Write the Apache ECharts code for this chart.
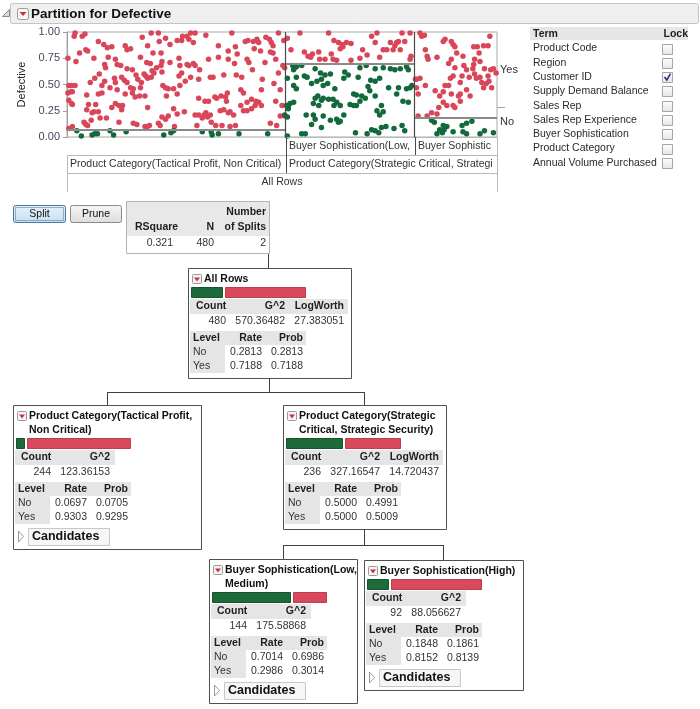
<!DOCTYPE html>
<html><head><meta charset="utf-8">
<script src="https://cdn.jsdelivr.net/npm/echarts@6.0.0/dist/echarts.min.js"></script>
<style>html,body{margin:0;padding:0;background:#fff}#c{width:700px;height:709px}</style>
</head><body><div id="c"></div>
<script>
// ---------------- data ----------------
const chartTitle = 'Partition for Defective';
const yName = 'Defective';
const yTickLabels = ['0.00', '0.25', '0.50', '0.75', '1.00'];
const levels = ['No', 'Yes'];
const leafCounts = [244, 144, 92];
const leafNoRate = [0.0697, 0.7014, 0.1848];
const overallNoRate = 0.2813;
const level1Labels = ['Product Category(Tactical Profit, Non Critical)', 'Product Category(Strategic Critical, Strategic Security)'];
const level2Labels = ['Buyer Sophistication(Low, Medium)', 'Buyer Sophistication(High)'];
const rootLabel = 'All Rows';

const redPoints = [
[9,.99],[8,.96],[17,.96],[20,.98],[35,.91],[41,.88],[45,.85],[50,.86],[65,.87],[67,.83],[71,.84],[84,.95],[94,.99],[102,.99],[103,.91],[90,.87],[96,.80],[105,.80],[110,.94],[115,.88],[123,.92],[128,.92],[129,.96],[134,.96],[136,.93],[138,.99],[143,.99],[141,.90],[155,.97],[169,.87],[180,.82],[184,.99],[188,.86],[199,.91],[202,.92],[208,.91],[212,.93],[214,.90],[222,.95],[226,.93],[228,.90],[230,.87],[236,.99],[242,.92],[209,.84],[216,.82],[227,.81],[230,.80],[190,.79],[169,.76],[14,.80],[21,.83],[23,.82],[1,.75],[10,.72],[30,.75],[46,.76],[54,.74],[56,.69],[42,.69],[43,.66],[60,.68],[67,.65],[73,.64],[82,.76],[89,.71],[93,.70],[95,.63],[100,.66],[105,.68],[106,.72],[115,.71],[125,.75],[126,.68],[134,.69],[136,.68],[141,.70],[143,.68],[148,.64],[158,.74],[180,.74],[187,.70],[201,.74],[203,.71],[221,.71],[233,.74],[241,.68],[207,.64],
[31,.56],[36,.60],[26,.52],[42,.53],[39,.49],[53,.56],[54,.52],[61,.57],[64,.54],[67,.52],[71,.47],[77,.59],[79,.55],[86,.60],[88,.58],[90,.56],[83,.52],[82,.47],[74,.46],[73,.42],[76,.38],[81,.39],[87,.39],[94,.57],[97,.61],[106,.62],[107,.49],[110,.47],[113,.46],[119,.46],[125,.58],[126,.49],[128,.61],[132,.53],[138,.57],[147,.55],[160,.57],[163,.57],[175,.59],[189,.59],[195,.57],[218,.55],[231,.51],[236,.61],[243,.66],[238,.45],[217,.45],[194,.45],[5,.49],[2,.49],[9,.49],[1,.42],[4,.43],[6,.43],[48,.47],[56,.45],[39,.42],[35,.41],[22,.40],[65,.41],[123,.41],[111,.39],[147,.37],[154,.34],[158,.34],[165,.38],[167,.37],[172,.39],[177,.38],[179,.42],[178,.34],[197,.42],[206,.36],[211,.34],[214,.33],[210,.30],[217,.30],[233,.34],[240,.30],[243,.20],[238,.20],[2,.35],[5,.32],[6,.31],[32,.31],[24,.31],[22,.26],[28,.23],[30,.24],[35,.24],[50,.28],[54,.32],[58,.30],[62,.30],[61,.26],[90,.28],[119,.27],[123,.22],[131,.24],[113,.20],[106,.19],[110,.17],[143,.21],[147,.21],[151,.18],[153,.21],[155,.23],[157,.19],[160,.21],[171,.25],[175,.26],[180,.23],[182,.24],[186,.21],[194,.30],[197,.25],[201,.25],[206,.27],[201,.33],
[19,.14],[21,.12],[23,.11],[27,.16],[37,.18],[44,.18],[58,.14],[74,.13],[78,.12],[92,.11],[89,.09],[87,.10],[102,.13],[104,.11],[120,.10],[145,.11],[161,.14],[166,.11],[173,.11],[182,.10],[188,.11],[227,.13],[234,.11],[2,.08],[6,.10],
[260,.99],[292,.99],[298,.92],[303,.90],[307,.88],[308,.86],[312,.90],[317,.89],[305,.84],[340,.96],[344,.90],[346,.99],[361,.90],[364,.83],[366,.87],[368,.90],[370,.91],[372,.83],[374,.99],[377,.91],[383,.99],[250,.83],[265,.81],[269,.77],[272,.76],[274,.79],[281,.81],[282,.74],[288,.74],[295,.79],[297,.74],[301,.73],[317,.73],[330,.83],[335,.78],[353,.83],[357,.83],[246,.94],[383,.74],[384,.77],[327,.75],[349,.76],
[394,.99],[399,.97],[396,.96],[400,.83],[402,.77],[403,.74],[413,.76],[420,.91],[422,.93],[429,.91],[431,.88],[433,.86],[435,.80],[442,.77],[454,.86],[458,.86],[460,.80],[465,.87],[470,.87],[472,.96],[476,.65],[473,.64],[466,.65],[461,.72],[455,.74],[454,.69],[453,.65],[446,.64],[449,.57],[455,.60],[457,.56],[461,.57],[463,.52],[465,.47],[468,.51],[470,.58],[471,.53],[474,.47],[479,.61],[441,.58],[439,.52],[431,.58],[428,.56],[422,.49],[420,.43],[426,.49],[429,.41],[437,.39],[446,.45],[450,.39],[439,.34],[433,.28],[424,.30],[420,.33],[415,.28],[413,.22],[407,.23],[416,.39],[411,.44],[389,.55],[390,.55],[394,.56],[390,.47],[400,.49],[392,.41],[392,.20],[402,.20],[431,.30],[439,.41],[426,.70],[429,.74],[433,.66],[443,.68]
];

const greenPoints = [
[11,.06],[16,.01],[28,.02],[31,.03],[34,.03],[48,.06],[52,.02],[66,.05],[108,.02],[116,.04],[119,.06],[151,.05],[161,.05],[162,.02],[169,.03],[192,.03],[224,.03],
[252,.68],[254,.66],[262,.68],[253,.64],[256,.67],[277,.65],[283,.61],[288,.59],[294,.60],[310,.62],[314,.59],[327,.66],[334,.68],[344,.65],[353,.66],[361,.65],[366,.64],[372,.65],[379,.67],[381,.64],[246,.56],[256,.57],[265,.58],[268,.57],[273,.51],[279,.53],[284,.55],[291,.51],[309,.56],[325,.57],[339,.54],[344,.53],[349,.56],[359,.47],[253,.49],[256,.46],[286,.49],[299,.46],[320,.41],[329,.39],[333,.37],[336,.48],[338,.44],[323,.40],[327,.34],[316,.31],[320,.30],[323,.30],[292,.36],[297,.36],[301,.33],[305,.30],[298,.30],[284,.35],[286,.37],[277,.37],[280,.39],[275,.32],[281,.30],[249,.32],[253,.33],[245,.30],[247,.28],[243,.21],[246,.19],[267,.21],[275,.21],[277,.17],[286,.20],[294,.16],[301,.17],[305,.15],[309,.21],[368,.41],[370,.47],[379,.46],[383,.47],[385,.49],[375,.34],[381,.33],[351,.30],[353,.24],[344,.39],[346,.25],[349,.21],[273,.12],[284,.09],[303,.14],[262,.03],[266,.03],[322,.04],[335,.03],[340,.07],[344,.06],[348,.04],[351,.09],[356,.10],[365,.08],[374,.11],[377,.06],[246,.01],[247,.27],
[407,.16],[410,.14],[420,.11],[424,.10],[416,.07],[413,.03],[419,.04],[421,.07],[441,.11],[442,.05],[446,.13],[452,.15],[446,.03],[461,.03],[466,.06],[476,.04],[431,.05]
];

const summaryHeads = ['RSquare', 'N', 'Number of Splits'];
const summaryVals = ['0.321', '480', '2'];

const nodeTitles = [['All Rows'], ['Product Category(Tactical Profit,', 'Non Critical)'], ['Product Category(Strategic', 'Critical, Strategic Security)'], ['Buyer Sophistication(Low,', 'Medium)'], ['Buyer Sophistication(High)']];
const nodeCounts = [480, 244, 236, 144, 92];
const nodeG2 = ['570.36482', '123.36153', '327.16547', '175.58868', '88.056627'];
const nodeLogWorth = ['27.383051', null, '14.720437', null, null];
const nodeRateNo = ['0.2813', '0.0697', '0.5000', '0.7014', '0.1848'];
const nodeRateYes = ['0.7188', '0.9303', '0.5000', '0.2986', '0.8152'];
const nodeProbNo = ['0.2813', '0.0705', '0.4991', '0.6986', '0.1861'];
const nodeProbYes = ['0.7188', '0.9295', '0.5009', '0.3014', '0.8139'];
const nodeCandidates = [false, true, false, true, true];

const termNames = ['Product Code', 'Region', 'Customer ID', 'Supply Demand Balance', 'Sales Rep', 'Sales Rep Experience', 'Buyer Sophistication', 'Product Category', 'Annual Volume Purchased'];
const termLocked = [false, false, true, false, false, false, false, false, false];

// ---------------- chart ----------------
const FONT = '"Liberation Sans", Arial, sans-serif';
const RED = '#d9465a', GREEN = '#12693a';
const leafStarts = []; let acc = 0;
leafCounts.forEach(c => { leafStarts.push(acc); acc += c; });
const totalN = acc;
const partLines = leafCounts.map((c, i) => ({ coords: [[leafStarts[i], leafNoRate[i]], [leafStarts[i] + c, leafNoRate[i]]] }));
const splitLines = leafStarts.slice(1).map(s => ({ coords: [[s, 0], [s, 1]] }));

const chart = echarts.init(document.getElementById('c'), null, { width: 700, height: 709 });
chart.setOption({
  animation: false,
  backgroundColor: '#fff',
  grid: { left: 67, top: 32, width: 430, height: 105, show: true, borderColor: '#a8a8a8', borderWidth: 1, backgroundColor: '#fff' },
  xAxis: { type: 'value', min: 0, max: totalN, show: false },
  yAxis: {
    type: 'value', min: 0, max: 1, interval: 0.25,
    name: yName, nameLocation: 'middle', nameGap: 40, nameRotate: 90,
    nameTextStyle: { fontFamily: FONT, fontSize: 11, color: '#222' },
    axisLine: { show: true, lineStyle: { color: '#a0a0a0' } },
    axisTick: { show: true, length: 4, lineStyle: { color: '#a0a0a0' } },
    axisLabel: { fontFamily: FONT, fontSize: 11, color: '#404a5e', margin: 7, formatter: (v, i) => yTickLabels[i] },
    splitLine: { show: false }
  },
  series: [
    { type: 'scatter', data: redPoints, symbolSize: 5.5, itemStyle: { color: RED, opacity: 1 }, silent: true },
    { type: 'scatter', data: greenPoints, symbolSize: 5.5, itemStyle: { color: GREEN, opacity: 1 }, silent: true },
    { type: 'lines', coordinateSystem: 'cartesian2d', data: partLines, lineStyle: { color: '#8a8a8a', width: 2, opacity: 1 }, silent: true, z: 3 },
    { type: 'lines', coordinateSystem: 'cartesian2d', data: splitLines, lineStyle: { color: '#4a4a4a', width: 1.2, opacity: 1 }, silent: true, z: 3 }
  ]
});

// ---------------- graphics ----------------
const g = [];
function T(x, y, text, o) {
  o = o || {};
  const st = { text: text, fill: o.c || '#1e1e1e', font: (o.b ? 'bold ' : '') + (o.s || 10.5) + 'px ' + FONT,
    textAlign: o.a || 'left', textVerticalAlign: 'middle', align: o.a || 'left', verticalAlign: 'middle' };
  if (o.w) { st.width = o.w; st.overflow = 'truncate'; st.ellipsis = ''; }
  g.push({ type: 'text', x: x, y: y, rotation: o.r || 0, silent: true, z: 10, style: st });
}
function R(x, y, w, h, fill, stroke, lw, r, dash) {
  const st = { fill: fill || 'none', stroke: stroke || 'none', lineWidth: lw || 1 };
  if (dash) st.lineDash = dash;
  g.push({ type: 'rect', silent: true, z: 5, shape: { x: x, y: y, width: w, height: h, r: r || 0 }, style: st });
}
function L(x1, y1, x2, y2, c, w) {
  g.push({ type: 'line', silent: true, z: 6, shape: { x1: x1, y1: y1, x2: x2, y2: y2 }, style: { stroke: c || '#444', lineWidth: w || 1 } });
}
function P(pts, fill, stroke) {
  g.push({ type: 'polygon', silent: true, z: 7, shape: { points: pts }, style: { fill: fill || 'none', stroke: stroke || 'none', lineWidth: 1 } });
}
function grad(a, b) { return { type: 'linear', x: 0, y: 0, x2: 0, y2: 1, colorStops: [{ offset: 0, color: a }, { offset: 1, color: b }] }; }

// title bar
R(10.5, 3.5, 688, 20, '#efefef', '#c4c4c4', 1, 2);
P([[9.5, 9.5], [9.5, 16.5], [2.5, 16.5]], '#dadada', '#8a8a8a');
R(17.5, 8.5, 11, 11, '#f7f7f7', '#9a9a9a', 1, 2);
P([[19.5, 12], [26.5, 12], [23, 16]], '#d0283a');
T(31, 14, chartTitle, { b: 1, s: 13.5, c: '#111' });

// plot partition rows
const pTL = chart.convertToPixel({ gridIndex: 0 }, [0, 1]);
const pBR = chart.convertToPixel({ gridIndex: 0 }, [totalN, 0]);
const X0 = Math.round(pTL[0]), X1 = Math.round(pBR[0]), Yb = Math.round(pBR[1]);
const b1 = Math.round(chart.convertToPixel({ gridIndex: 0 }, [leafStarts[1], 0])[0]);
const b2 = Math.round(chart.convertToPixel({ gridIndex: 0 }, [leafStarts[2], 0])[0]);
const rh = 18, r1 = Yb, r2 = Yb + rh, r3 = Yb + 2 * rh;
R(b1 + .5, r1 + .5, X1 - b1, rh, 'none', '#b8b8b8');
R(X0 + .5, r2 + .5, X1 - X0, rh, 'none', '#b8b8b8');
L(X0 + .5, r3, X0 + .5, r3 + rh + 1, '#b8b8b8');
L(X1 + .5, r3, X1 + .5, r3 + rh + 1, '#b8b8b8');
L(b1 + .5, Yb, b1 + .5, r3, '#4a4a4a');
L(b2 + .5, Yb, b2 + .5, r2, '#4a4a4a');
T(b1 + 3, r1 + 9.5, level2Labels[0], { c: '#333', w: b2 - b1 - 4 });
T(b2 + 3, r1 + 9.5, level2Labels[1], { c: '#333', w: X1 - b2 - 4 });
T(X0 + 3, r2 + 9.5, level1Labels[0], { c: '#333', w: b1 - X0 - 4 });
T(b1 + 3, r2 + 9.5, level1Labels[1], { c: '#333', w: X1 - b1 - 4 });
T((X0 + X1) / 2, r3 + 9.5, rootLabel, { c: '#333', a: 'center' });
// right level labels
const yOv = chart.convertToPixel({ gridIndex: 0 }, [0, overallNoRate])[1];
const yYes = chart.convertToPixel({ gridIndex: 0 }, [0, (overallNoRate + 1) / 2])[1];
const yNo = chart.convertToPixel({ gridIndex: 0 }, [0, overallNoRate / 2])[1];
L(X1, Math.round(yOv) + .5, X1 + 8, Math.round(yOv) + .5, '#a0a0a0');
T(X1 + 3, yYes, levels[1], { c: '#333', s: 11 });
T(X1 + 3, yNo, levels[0], { c: '#333', s: 11 });

// term / lock panel
R(530, 27, 158, 13, '#e6e6e6');
T(533, 34, 'Term', { b: 1 });
T(688, 34, 'Lock', { b: 1, a: 'right' });
termNames.forEach((t, i) => {
  const y = 48.5 + i * 14.3;
  T(533, y, t, { c: '#2a2a2a' });
  R(662.5, Math.round(y - 5) + .5, 10, 10, grad('#ffffff', '#e4e4e4'), '#a6a6a6');
  if (termLocked[i]) {
    g.push({ type: 'polyline', silent: true, z: 8, shape: { points: [[664.5, y], [666.8, y + 3], [670.5, y - 3.5]] }, style: { stroke: '#2d2d8f', lineWidth: 1.6, fill: 'none' } });
  }
});

// buttons
R(13.5, 205.5, 52, 17, grad('#e6f2fb', '#c4dff3'), '#3d7bad', 1, 2);
R(15.5, 207.5, 48, 13, 'none', '#6a6a6a', 1, 0, [1, 1]);
T(39.5, 214, 'Split', { a: 'center', c: '#111' });
R(70.5, 205.5, 51, 17, grad('#f6f6f6', '#dddddd'), '#8a8a8a', 1, 2);
T(96, 214, 'Prune', { a: 'center', c: '#111' });

// summary box
R(126.5, 201.5, 143, 52, '#fff', '#b4b4b4');
R(127, 202, 142, 34, '#e8e8e8');
T(266, 212, 'Number', { b: 1, a: 'right' });
T(135, 227, summaryHeads[0], { b: 1 });
T(214, 227, summaryHeads[1], { b: 1, a: 'right' });
T(266, 227, 'of Splits', { b: 1, a: 'right' });
T(173, 243, summaryVals[0], { a: 'right', c: '#333' });
T(214, 243, summaryVals[1], { a: 'right', c: '#333' });
T(266, 243, summaryVals[2], { a: 'right', c: '#333' });

// tree nodes
const nodeBoxes = [
  { x: 188, y: 268, w: 163 },
  { x: 13, y: 405, w: 188 },
  { x: 283, y: 405, w: 163 },
  { x: 209, y: 559, w: 148 },
  { x: 364, y: 560, w: 159 }
];
function drawNode(i) {
  const b = nodeBoxes[i], x = b.x, y = b.y;
  const two = nodeTitles[i].length > 1, ex = two ? 14 : 0, hasLW = nodeLogWorth[i] != null, cand = nodeCandidates[i];
  const h = 110 + ex + (cand ? 20 : 0);
  R(x + .5, y + .5, b.w, h, '#fff', '#505050');
  R(x + 4.5, y + 6.5, 9, 9, '#f4f4f4', '#9a9a9a', 1, 1);
  P([[x + 6, y + 9.5], [x + 12, y + 9.5], [x + 9, y + 13.5]], '#d32f3c');
  T(x + 16, y + 11.5, nodeTitles[i][0], { b: 1, c: '#111' });
  if (two) T(x + 16, y + 25.5, nodeTitles[i][1], { b: 1, c: '#111' });
  const bw = 111, gw = Math.max(4, Math.round(bw * parseFloat(nodeRateNo[i])));
  R(x + 3.5, y + 19.5 + ex, gw, 10, '#1d6b3b', '#15552e');
  R(x + 3.5 + gw + 3, y + 19.5 + ex, bw - gw, 10, '#d84a5b', '#bf3d4d');
  R(x + 2, y + 31 + ex, hasLW ? 158 : 100, 15, '#e5e5e5');
  T(x + 8, y + 38.5 + ex, 'Count', { b: 1 });
  T(x + 97, y + 38.5 + ex, 'G^2', { b: 1, a: 'right' });
  if (hasLW) T(x + 156, y + 38.5 + ex, 'LogWorth', { b: 1, a: 'right' });
  T(x + 38, y + 53.5 + ex, String(nodeCounts[i]), { a: 'right', c: '#333' });
  T(x + 97, y + 53.5 + ex, nodeG2[i], { a: 'right', c: '#333' });
  if (hasLW) T(x + 156, y + 53.5 + ex, nodeLogWorth[i], { a: 'right', c: '#333' });
  R(x + 2, y + 63 + ex, 116, 14, '#e5e5e5');
  R(x + 2, y + 77 + ex, 35, 28, '#e5e5e5');
  T(x + 5, y + 70 + ex, 'Level', { b: 1 });
  T(x + 74, y + 70 + ex, 'Rate', { b: 1, a: 'right' });
  T(x + 115, y + 70 + ex, 'Prob', { b: 1, a: 'right' });
  T(x + 5, y + 84 + ex, levels[0], { c: '#333' });
  T(x + 5, y + 98 + ex, levels[1], { c: '#333' });
  T(x + 74, y + 84 + ex, nodeRateNo[i], { a: 'right', c: '#333' });
  T(x + 74, y + 98 + ex, nodeRateYes[i], { a: 'right', c: '#333' });
  T(x + 115, y + 84 + ex, nodeProbNo[i], { a: 'right', c: '#333' });
  T(x + 115, y + 98 + ex, nodeProbYes[i], { a: 'right', c: '#333' });
  if (cand) {
    P([[x + 5.5, y + 112 + ex], [x + 10.5, y + 117.5 + ex], [x + 5.5, y + 123 + ex]], '#fff', '#9a9a9a');
    R(x + 15.5, y + 109.5 + ex, 81, 17, '#f6f6f6', '#c8c8c8');
    T(x + 19, y + 118 + ex, 'Candidates', { b: 1, s: 12.5, c: '#111' });
  }
}
for (let i = 0; i < nodeBoxes.length; i++) drawNode(i);

// connectors
const LC = '#404040';
L(268.5, 254, 268.5, 268, LC);
L(269.5, 378, 269.5, 392, LC);
L(107, 392.5, 365, 392.5, LC);
L(107.5, 392, 107.5, 405, LC);
L(364.5, 392, 364.5, 405, LC);
L(364.5, 529, 364.5, 545, LC);
L(283, 545.5, 444, 545.5, LC);
L(283.5, 545, 283.5, 559, LC);
L(443.5, 545, 443.5, 560, LC);

chart.setOption({ graphic: { elements: g } });
</script></body></html>
